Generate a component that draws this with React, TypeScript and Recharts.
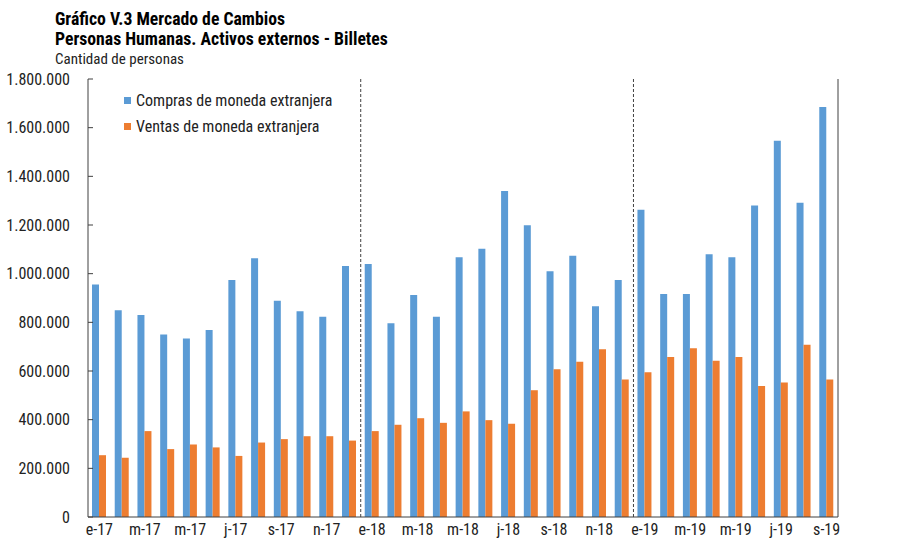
import React from 'react';
import { BarChart, Bar, XAxis, YAxis, ReferenceLine } from 'recharts';

const periodos = [
    '2017-01', '2017-02', '2017-03', '2017-04', '2017-05', '2017-06', '2017-07', '2017-08', '2017-09', '2017-10', '2017-11', '2017-12',
    '2018-01', '2018-02', '2018-03', '2018-04', '2018-05', '2018-06', '2018-07', '2018-08', '2018-09', '2018-10', '2018-11', '2018-12',
    '2019-01', '2019-02', '2019-03', '2019-04', '2019-05', '2019-06', '2019-07', '2019-08', '2019-09',
];

const etiquetas = [
    'e-17', 'f-17', 'm-17', 'a-17', 'm-17', 'j-17', 'j-17', 'a-17', 's-17', 'o-17', 'n-17', 'd-17',
    'e-18', 'f-18', 'm-18', 'a-18', 'm-18', 'j-18', 'j-18', 'a-18', 's-18', 'o-18', 'n-18', 'd-18',
    'e-19', 'f-19', 'm-19', 'a-19', 'm-19', 'j-19', 'j-19', 'a-19', 's-19',
];

const compras = [
    955000, 850000, 830000, 750000, 734000, 768000, 974000, 1063000, 889000, 846000, 823000, 1032000,
    1040000, 796000, 912000, 823000, 1067000, 1102000, 1340000, 1199000, 1010000, 1074000, 866000, 974000,
    1263000, 916000, 916000, 1080000, 1067000, 1280000, 1546000, 1291000, 1685000,
];

const ventas = [
    254000, 244000, 353000, 279000, 298000, 286000, 251000, 306000, 320000, 332000, 332000, 314000,
    353000, 379000, 406000, 387000, 434000, 398000, 383000, 521000, 607000, 638000, 689000, 565000,
    595000, 658000, 693000, 642000, 658000, 538000, 553000, 708000, 565000,
];

const ticksY = [0, 200000, 400000, 600000, 800000, 1000000, 1200000, 1400000, 1600000, 1800000];

// cortes de año (línea punteada al inicio de enero)
const cortes = ['2018-01', '2019-01'];

const series = [
    { key: 'compras', nombre: 'Compras de moneda extranjera', color: '#5B9BD5' },
    { key: 'ventas', nombre: 'Ventas de moneda extranjera', color: '#ED7D31' },
];

const FUENTE = "'Liberation Sans Narrow', 'Arial Narrow', 'Roboto Condensed', sans-serif";

const data = periodos.map((p, i) => ({ periodo: p, compras: compras[i], ventas: ventas[i] }));

const fmtMiles = (v: number) => v.toLocaleString('de-DE');
const fmtMes = (v: string) => etiquetas[periodos.indexOf(v)];

export default function App() {
    return (
        <div style={{ position: 'absolute', left: 0, top: 0, width: 913, height: 540, background: '#fff', overflow: 'hidden' }}>
            <div style={{ position: 'absolute', left: 55, top: 9, fontFamily: FUENTE, color: '#000', lineHeight: '20px' }}>
                <div style={{ fontWeight: 'bold', fontSize: 17.7 }}>Gráfico V.3 Mercado de Cambios</div>
                <div style={{ fontWeight: 'bold', fontSize: 17.7 }}>Personas Humanas. Activos externos - Billetes</div>
                <div style={{ fontSize: 15, color: '#222' }}>Cantidad de personas</div>
            </div>
            {/* leyenda */}
            <div style={{ position: 'absolute', left: 124, top: 87, fontFamily: FUENTE, fontSize: 16, color: '#222', zIndex: 2 }}>
                {series.map((s) => (
                    <div key={s.key} style={{ display: 'flex', alignItems: 'center', height: 26 }}>
                        <span style={{ width: 7, height: 7, background: s.color, display: 'inline-block', marginRight: 5 }} />
                        <span>{s.nombre}</span>
                    </div>
                ))}
            </div>
            <BarChart
                width={913}
                height={540}
                data={data}
                margin={{ top: 79, right: 0, bottom: 0, left: 0 }}
                barGap={0}
                barSize={7}
            >
                <XAxis
                    dataKey="periodo"
                    interval={1}
                    tickFormatter={fmtMes}
                    tickLine={false}
                    tickSize={0}
                    tickMargin={7}
                    height={23}
                    stroke="#404040"
                    tick={{ fill: '#222', fontSize: 16, fontFamily: FUENTE }}
                />
                <YAxis
                    yAxisId="left"
                    domain={[0, 1800000]}
                    ticks={ticksY}
                    tickFormatter={fmtMiles}
                    width={88}
                    tickSize={-5}
                    tickMargin={23}
                    stroke="#404040"
                    tick={{ fill: '#222', fontSize: 16, fontFamily: FUENTE }}
                />
                <YAxis
                    yAxisId="right"
                    orientation="right"
                    domain={[0, 1800000]}
                    ticks={ticksY}
                    tickFormatter={fmtMiles}
                    width={75}
                    tickSize={-5}
                    tickMargin={20}
                    stroke="#404040"
                    tick={{ fill: '#222', fontSize: 16, fontFamily: FUENTE, textAnchor: 'start' }}
                />
                {cortes.map((c) => (
                    <ReferenceLine key={c} yAxisId="left" x={c} position="start" stroke="#404040" strokeDasharray="3 2" />
                ))}
                {series.map((s) => (
                    <Bar key={s.key} yAxisId="left" dataKey={s.key} fill={s.color} name={s.nombre} isAnimationActive={false} />
                ))}
            </BarChart>
        </div>
    );
}
